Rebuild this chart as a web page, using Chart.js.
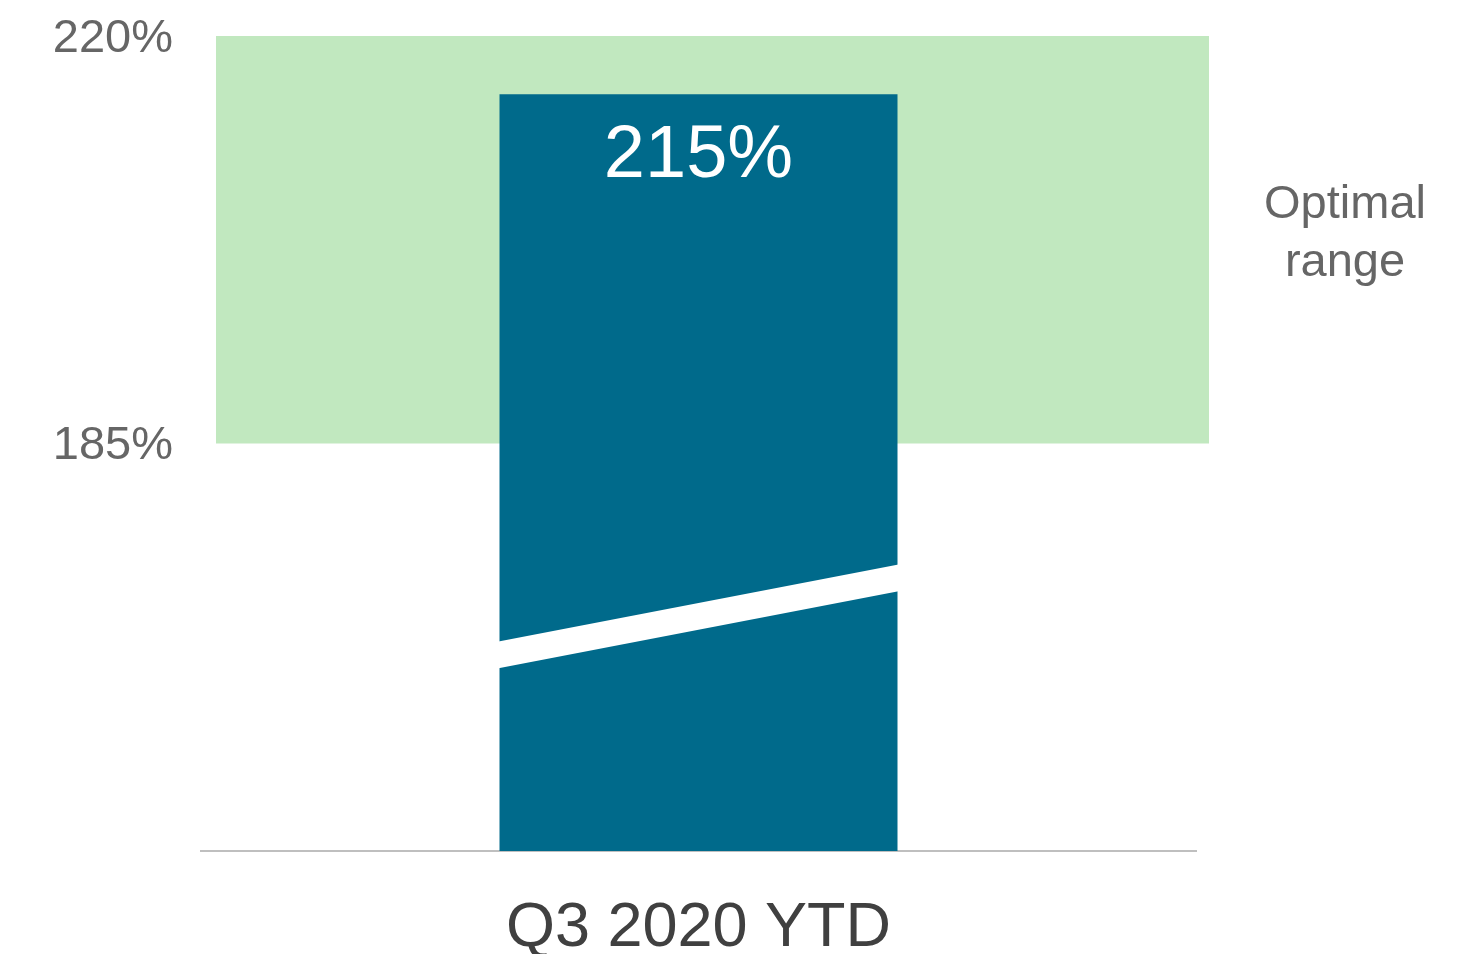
<!DOCTYPE html>
<html>
<head>
<meta charset="utf-8">
<script src="https://cdn.jsdelivr.net/npm/chart.js@4/dist/chart.umd.min.js"></script>
<style>
  html, body { margin: 0; padding: 0; background: #ffffff; }
  #wrap { width: 1476px; height: 954px; }
</style>
</head>
<body>
<div id="wrap"><canvas id="c" width="1476" height="954"></canvas></div>
<script>
// Capital ratio, year-to-date
const categories = ['Q3 2020 YTD'];
const ratioValues = [215];
const tickValues = [185, 220];
const optimalRange = [185, 220];
const optimalLabel = ['Optimal', 'range'];
// Axis-break stripe (value at left edge, value at right edge)
const breakLower = [165.7, 172.3];
const breakUpper = [168.0, 174.6];

const FONT = "'Liberation Sans', Arial, Helvetica, sans-serif";

// Green band marking the optimal range, drawn behind the bar
const bandPlugin = {
  id: 'band',
  beforeDatasetsDraw(chart) {
    const { ctx, chartArea, scales } = chart;
    const yTop = scales.y.getPixelForValue(optimalRange[1]);
    const yBot = scales.y.getPixelForValue(optimalRange[0]);
    const left = chartArea.left + 15;
    const right = chartArea.right + 13;
    ctx.save();
    ctx.fillStyle = '#C1E8BF';
    ctx.fillRect(left, yTop, right - left, yBot - yTop);
    ctx.fillStyle = '#666666';
    ctx.font = '47px ' + FONT;
    ctx.textAlign = 'center';
    ctx.textBaseline = 'alphabetic';
    const mid = (yTop + yBot) / 2;
    const cx = right + 136;
    ctx.fillText(optimalLabel[0], cx, mid - 22);
    ctx.fillText(optimalLabel[1], cx, mid + 36);
    ctx.restore();
  }
};

// Break stripe across the bar and the value label inside it
const barDecor = {
  id: 'barDecor',
  afterDatasetsDraw(chart) {
    const { ctx, scales } = chart;
    const meta = chart.getDatasetMeta(0);
    meta.data.forEach((bar, i) => {
      const half = bar.width / 2;
      const l = bar.x - half, r = bar.x + half;
      const y = scales.y;
      ctx.save();
      ctx.fillStyle = '#ffffff';
      ctx.beginPath();
      ctx.moveTo(l - 1, y.getPixelForValue(breakUpper[0]));
      ctx.lineTo(r + 1, y.getPixelForValue(breakUpper[1]));
      ctx.lineTo(r + 1, y.getPixelForValue(breakLower[1]));
      ctx.lineTo(l - 1, y.getPixelForValue(breakLower[0]));
      ctx.closePath();
      ctx.fill();
      ctx.fillStyle = '#ffffff';
      ctx.font = '74px ' + FONT;
      ctx.textAlign = 'center';
      ctx.textBaseline = 'alphabetic';
      ctx.fillText(ratioValues[i] + '%', bar.x, bar.y + 83);
      ctx.restore();
    });
  }
};

new Chart(document.getElementById('c'), {
  type: 'bar',
  data: {
    labels: categories,
    datasets: [{
      data: ratioValues,
      backgroundColor: '#006A8B',
      borderWidth: 0,
      barPercentage: 0.4,
      categoryPercentage: 1.0
    }]
  },
  options: {
    responsive: false,
    animation: false,
    devicePixelRatio: 1,
    layout: { padding: { left: 0, right: 280, top: 36, bottom: 0 } },
    plugins: {
      legend: { display: false },
      tooltip: { enabled: false }
    },
    scales: {
      x: {
        grid: { display: false, drawTicks: false },
        border: { display: true, color: '#BFBFBF', width: 2 },
        ticks: {
          color: '#404040',
          font: { family: FONT, size: 63 },
          padding: 40,
          maxRotation: 0
        },
        afterFit(scale) { scale.height = 103; }
      },
      y: {
        min: 150,
        max: 220,
        grid: { display: false, drawTicks: false },
        border: { display: false },
        afterBuildTicks(scale) { scale.ticks = tickValues.map(v => ({ value: v })); },
        ticks: {
          color: '#666666',
          font: { family: FONT, size: 47 },
          padding: 28,
          labelOffset: 3,
          callback: v => v + '%'
        },
        afterFit(scale) {
          scale.width = 201;
          scale.paddingTop = 0;
          scale.paddingBottom = 0;
        }
      }
    }
  },
  plugins: [bandPlugin, barDecor]
});
</script>
</body>
</html>
